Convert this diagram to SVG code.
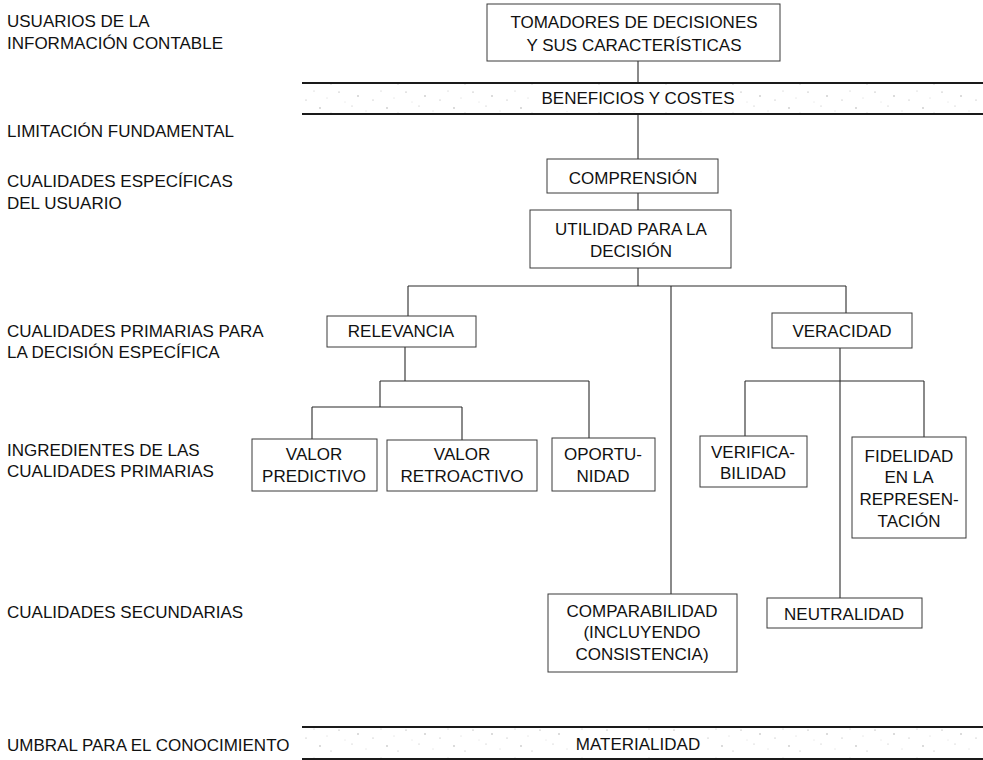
<svg xmlns="http://www.w3.org/2000/svg" width="983" height="760" viewBox="0 0 983 760">
  <style>
    text { font-family: "Liberation Sans", Arial, sans-serif; font-size: 17px; fill: #111111; }
    .lbl { text-anchor: start; }
    .c { text-anchor: middle; }
    .box { fill: #ffffff; stroke: #3a3a3a; stroke-width: 1; }
    .wire { fill: none; stroke: #2a2a2a; stroke-width: 1.1; }
    .rule { stroke: #1a1a1a; stroke-width: 2; }
  </style>
  <defs>
    <!-- faint, uneven screen tint used inside the two horizontal bands -->
    <pattern id="tint" width="67" height="29" patternUnits="userSpaceOnUse">
      <rect width="67" height="29" fill="#ffffff"/>
      <circle cx="4" cy="5" r="0.6" fill="#9a9a9a"/>
      <circle cx="17" cy="19" r="0.5" fill="#b0b0b0"/>
      <circle cx="23" cy="9" r="0.7" fill="#a0a0a0"/>
      <circle cx="31" cy="24" r="0.45" fill="#b5b5b5"/>
      <circle cx="38" cy="13" r="0.55" fill="#a8a8a8"/>
      <circle cx="46" cy="4" r="0.5" fill="#b8b8b8"/>
      <circle cx="52" cy="21" r="0.65" fill="#9c9c9c"/>
      <circle cx="59" cy="11" r="0.45" fill="#b2b2b2"/>
      <circle cx="63" cy="26" r="0.5" fill="#a6a6a6"/>
      <circle cx="10" cy="15" r="0.4" fill="#bbbbbb"/>
    </pattern>
  </defs>
  <rect width="983" height="760" fill="#ffffff"/>

  <!-- level captions on the left -->
  <g id="levels">
    <text class="lbl" x="7" y="27">USUARIOS DE LA</text>
    <text class="lbl" x="7" y="49">INFORMACIÓN CONTABLE</text>
    <text class="lbl" x="7" y="137">LIMITACIÓN FUNDAMENTAL</text>
    <text class="lbl" x="7" y="187">CUALIDADES ESPECÍFICAS</text>
    <text class="lbl" x="7" y="209">DEL USUARIO</text>
    <text class="lbl" x="7" y="337">CUALIDADES PRIMARIAS PARA</text>
    <text class="lbl" x="7" y="358">LA DECISIÓN ESPECÍFICA</text>
    <text class="lbl" x="7" y="456">INGREDIENTES DE LAS</text>
    <text class="lbl" x="7" y="477">CUALIDADES PRIMARIAS</text>
    <text class="lbl" x="7" y="618">CUALIDADES SECUNDARIAS</text>
    <text class="lbl" x="7" y="751">UMBRAL PARA EL CONOCIMIENTO</text>
  </g>

  <!-- connectors -->
  <g id="connectors" class="wire">
    <path class="wire" d="M638 61 V83"/>
    <path class="wire" d="M638 114 V159"/>
    <path class="wire" d="M638 193 V210"/>
    <path class="wire" d="M638 268 V286"/>
    <path class="wire" d="M408 286 H846"/>
    <path class="wire" d="M408 286 V316"/>
    <path class="wire" d="M846 286 V313"/>
    <path class="wire" d="M671 286 V594"/>
    <path class="wire" d="M405 347 V381"/>
    <path class="wire" d="M380 381 H589"/>
    <path class="wire" d="M589 381 V438"/>
    <path class="wire" d="M380 381 V407"/>
    <path class="wire" d="M312 407 H462"/>
    <path class="wire" d="M312 407 V439"/>
    <path class="wire" d="M462 407 V440"/>
    <path class="wire" d="M840 348 V598"/>
    <path class="wire" d="M745 381 H924"/>
    <path class="wire" d="M745 381 V436"/>
    <path class="wire" d="M924 381 V437"/>
  </g>

  <!-- band: BENEFICIOS Y COSTES -->
  <g id="beneficios-costes">
    <rect x="302" y="84" width="681" height="29" fill="url(#tint)"/>
    <rect x="536" y="86" width="204" height="25" fill="#ffffff"/>
    <line class="rule" x1="302" y1="83" x2="983" y2="83"/>
    <line class="rule" x1="302" y1="114" x2="983" y2="114"/>
    <text class="c" x="638" y="104">BENEFICIOS Y COSTES</text>
  </g>

  <!-- band: MATERIALIDAD -->
  <g id="materialidad">
    <rect x="302" y="728" width="681" height="30" fill="url(#tint)"/>
    <rect x="570" y="731" width="136" height="25" fill="#ffffff"/>
    <line class="rule" x1="302" y1="727" x2="983" y2="727"/>
    <line class="rule" x1="302" y1="759" x2="983" y2="759"/>
    <text class="c" x="638" y="750">MATERIALIDAD</text>
  </g>

  <g id="tomadores">
    <rect class="box" x="487" y="4" width="293" height="57"/>
    <text class="c" x="634" y="28">TOMADORES DE DECISIONES</text>
    <text class="c" x="634" y="51">Y SUS CARACTERÍSTICAS</text>
  </g>

  <g id="comprension">
    <rect class="box" x="547" y="159" width="171" height="34"/>
    <text class="c" x="633" y="184">COMPRENSIÓN</text>
  </g>

  <g id="utilidad">
    <rect class="box" x="530" y="210" width="201" height="58"/>
    <text class="c" x="631" y="235">UTILIDAD PARA LA</text>
    <text class="c" x="631" y="257">DECISIÓN</text>
  </g>

  <g id="relevancia">
    <rect class="box" x="327" y="316" width="149" height="31"/>
    <text class="c" x="401" y="337">RELEVANCIA</text>
  </g>

  <g id="veracidad">
    <rect class="box" x="772" y="313" width="140" height="35"/>
    <text class="c" x="842" y="337">VERACIDAD</text>
  </g>

  <g id="valor-predictivo">
    <rect class="box" x="252" y="439" width="125" height="52"/>
    <text class="c" x="314" y="460">VALOR</text>
    <text class="c" x="314" y="482">PREDICTIVO</text>
  </g>

  <g id="valor-retroactivo">
    <rect class="box" x="387" y="440" width="150" height="51"/>
    <text class="c" x="462" y="460">VALOR</text>
    <text class="c" x="462" y="482">RETROACTIVO</text>
  </g>

  <g id="oportunidad">
    <rect class="box" x="552" y="438" width="103" height="53"/>
    <text class="c" x="603" y="460">OPORTU-</text>
    <text class="c" x="603" y="482">NIDAD</text>
  </g>

  <g id="verificabilidad">
    <rect class="box" x="700" y="436" width="107" height="51"/>
    <text class="c" x="753" y="458">VERIFICA-</text>
    <text class="c" x="753" y="479">BILIDAD</text>
  </g>

  <g id="fidelidad">
    <rect class="box" x="852" y="437" width="114" height="101"/>
    <text class="c" x="909" y="462">FIDELIDAD</text>
    <text class="c" x="909" y="483">EN LA</text>
    <text class="c" x="909" y="505">REPRESEN-</text>
    <text class="c" x="909" y="527">TACIÓN</text>
  </g>

  <g id="comparabilidad">
    <rect class="box" x="548" y="594" width="189" height="78"/>
    <text class="c" x="642" y="617">COMPARABILIDAD</text>
    <text class="c" x="642" y="638">(INCLUYENDO</text>
    <text class="c" x="642" y="660">CONSISTENCIA)</text>
  </g>

  <g id="neutralidad">
    <rect class="box" x="767" y="598" width="155" height="30"/>
    <text class="c" x="844" y="620">NEUTRALIDAD</text>
  </g>
</svg>
